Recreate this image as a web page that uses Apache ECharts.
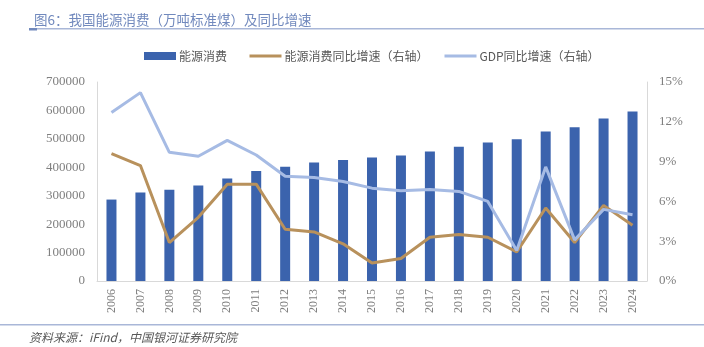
<!DOCTYPE html>
<html><head><meta charset="utf-8">
<script src="https://cdn.jsdelivr.net/npm/echarts@6/dist/echarts.min.js"></script>
<style>html,body{margin:0;padding:0;background:#fff}#c{width:704px;height:347px}</style>
</head><body><div id="c"></div>
<script>
const years = ['2006','2007','2008','2009','2010','2011','2012','2013','2014','2015','2016','2017','2018','2019','2020','2021','2022','2023','2024'];
const energy = [286467,311442,320611,336126,360648,387043,402138,416913,425806,434113,441492,455827,471925,487488,498314,525896,541000,572000,596000];
const energyGrowth = [9.6,8.7,2.9,4.8,7.3,7.3,3.9,3.7,2.8,1.35,1.7,3.3,3.5,3.3,2.2,5.5,2.9,5.7,4.2];
const gdpGrowth = [12.7,14.2,9.7,9.4,10.6,9.5,7.9,7.8,7.5,7.0,6.8,6.9,6.75,6.0,2.3,8.6,3.1,5.4,5.0];
const seriesNames = ['能源消费','能源消费同比增速（右轴）','GDP同比增速（右轴）'];

const chart = echarts.init(document.getElementById('c'));
const serif = '"Liberation Serif", "DejaVu Serif", serif';
const cjk = '"Noto Sans CJK SC"';
const noSym = {color:'rgba(0,0,0,0)',borderColor:'rgba(0,0,0,0)',borderWidth:0};
const legendBase = {top:45,itemWidth:32,itemHeight:8,itemGap:0,
  textStyle:{fontFamily:cjk,fontSize:12,color:'#595959',padding:[0,0,0,-2]}};
chart.setOption({
  animation:false,
  backgroundColor:'#fff',
  title:{text:'图6：我国能源消费（万吨标准煤）及同比增速',left:29,top:8,
    textStyle:{fontFamily:cjk,fontSize:13.5,fontWeight:'normal',color:'#7189bd'}},
  graphic:[
    {type:'rect',shape:{x:29,y:28,width:675,height:1.5},style:{fill:'#a9b7d8'}},
    {type:'rect',shape:{x:29,y:28,width:8,height:2.5},style:{fill:'#7189bd'}},
    {type:'rect',shape:{x:0,y:324,width:704,height:1.5},style:{fill:'#a9b7d8'}},
    {type:'text',left:29,top:331,style:{text:'资料来源：iFind，中国银河证券研究院',fontFamily:cjk,fontStyle:'italic',fontSize:12,fill:'#595959'}}
  ],
  legend:[
    Object.assign({},legendBase,{left:139,data:[{name:seriesNames[0],icon:'rect'}]}),
    Object.assign({},legendBase,{left:243,data:[{name:seriesNames[1],itemStyle:noSym,lineStyle:{width:3}}]}),
    Object.assign({},legendBase,{left:438,data:[{name:seriesNames[2],itemStyle:noSym,lineStyle:{width:3}}]})
  ],
  grid:{left:97,right:57,top:82,bottom:66},
  xAxis:{type:'category',data:years,
    axisLine:{lineStyle:{color:'#d9d9d9'}},axisTick:{show:false},
    axisLabel:{rotate:90,fontFamily:serif,fontSize:12,color:'#7f7f7f',margin:8}},
  yAxis:[
    {type:'value',min:0,max:700000,interval:100000,
      axisLine:{show:true,lineStyle:{color:'#d9d9d9'}},splitLine:{show:false},
      axisLabel:{fontFamily:serif,fontSize:13,color:'#7f7f7f',margin:12,formatter:function(v){return String(v);}}},
    {type:'value',min:0,max:15,interval:3,
      axisLine:{show:true,lineStyle:{color:'#d9d9d9'}},splitLine:{show:false},
      axisLabel:{fontFamily:serif,fontSize:13,color:'#7f7f7f',margin:12,formatter:'{value}%'}}
  ],
  series:[
    {name:seriesNames[0],type:'bar',data:energy,barWidth:10,itemStyle:{color:'#3b63ad'}},
    {name:seriesNames[1],type:'line',yAxisIndex:1,data:energyGrowth,symbol:'none',
      lineStyle:{color:'#b8915c',width:3},itemStyle:{color:'#b8915c'}},
    {name:seriesNames[2],type:'line',yAxisIndex:1,data:gdpGrowth,symbol:'none',
      lineStyle:{color:'#a6bbe4',width:3},itemStyle:{color:'#a6bbe4'}}
  ]
});
</script></body></html>
